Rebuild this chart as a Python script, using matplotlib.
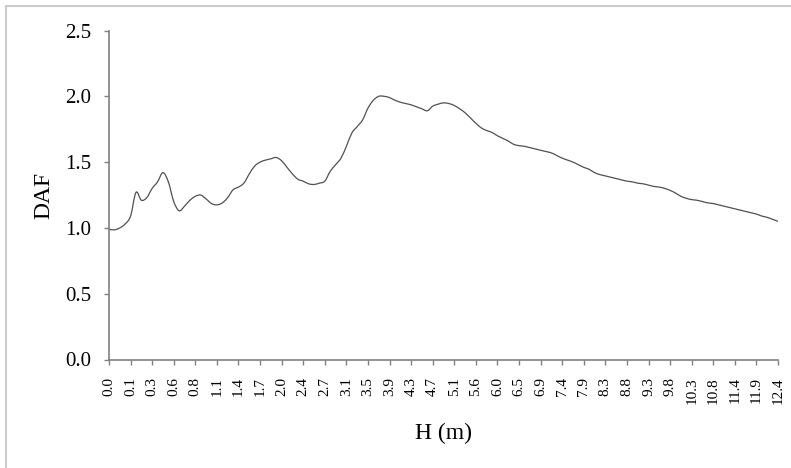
import matplotlib
matplotlib.use("Agg")
import matplotlib.pyplot as plt
import numpy as np
from matplotlib.patches import Rectangle, PathPatch
from matplotlib.path import Path

# tick labels along the category axis, H (m)
h_labels = ["0.0", "0.1", "0.3", "0.6", "0.8", "1.1", "1.4", "1.7", "2.0", "2.4",
            "2.7", "3.1", "3.5", "3.9", "4.3", "4.7", "5.1", "5.6", "6.0", "6.5",
            "6.9", "7.4", "7.9", "8.3", "8.8", "9.3", "9.8", "10.3", "10.8", "11.4",
            "11.9", "12.4"]

# DAF sampled 4 points per labelled interval
daf = [0.99, 0.985, 1.00, 1.03, 1.09, 1.27, 1.21, 1.23, 1.30, 1.35,
       1.42, 1.35, 1.20, 1.13, 1.165, 1.21, 1.24, 1.25, 1.22, 1.185,
       1.175, 1.19, 1.23, 1.29, 1.31, 1.34, 1.41, 1.47, 1.50, 1.515,
       1.525, 1.535, 1.51, 1.46, 1.41, 1.37, 1.355, 1.335, 1.33, 1.34,
       1.355, 1.43, 1.48, 1.53, 1.62, 1.72, 1.77, 1.82, 1.91, 1.97,
       2.00, 2.00, 1.99, 1.97, 1.955, 1.945, 1.935, 1.92, 1.905, 1.89,
       1.925, 1.94, 1.95, 1.945, 1.93, 1.905, 1.875, 1.835, 1.795, 1.76,
       1.74, 1.725, 1.70, 1.68, 1.66, 1.635, 1.625, 1.62, 1.61, 1.60,
       1.59, 1.58, 1.57, 1.55, 1.53, 1.515, 1.50, 1.48, 1.46, 1.445,
       1.42, 1.405, 1.395, 1.385, 1.375, 1.365, 1.355, 1.35, 1.34, 1.335,
       1.325, 1.315, 1.31, 1.30, 1.285, 1.265, 1.24, 1.225, 1.215, 1.21,
       1.20, 1.19, 1.185, 1.175, 1.165, 1.155, 1.145, 1.135, 1.125, 1.115,
       1.105, 1.09, 1.08, 1.065, 1.05]
per_label = 4

x = np.arange(len(daf)) / per_label
y = np.array(daf)


def smooth_path(xs, ys, k=1 / 6):
    # Excel-style smoothed line: cubic bezier through every point
    verts = [(xs[0], ys[0])]
    codes = [Path.MOVETO]
    n = len(xs)
    for i in range(n - 1):
        x0, y0 = xs[max(i - 1, 0)], ys[max(i - 1, 0)]
        x1, y1 = xs[i], ys[i]
        x2, y2 = xs[i + 1], ys[i + 1]
        x3, y3 = xs[min(i + 2, n - 1)], ys[min(i + 2, n - 1)]
        verts += [(x1 + (x2 - x0) * k, y1 + (y2 - y0) * k),
                  (x2 - (x3 - x1) * k, y2 - (y3 - y1) * k),
                  (x2, y2)]
        codes += [Path.CURVE4] * 3
    return Path(verts, codes)


plt.rcParams['font.family'] = ['Liberation Serif', 'DejaVu Serif']

fig = plt.figure(figsize=(7.91, 4.68), dpi=100)
fig.patches.append(Rectangle((6 / 791, -0.1), 1.2, 1.1 - 6 / 468,
                             transform=fig.transFigure, fill=False,
                             edgecolor='#cccccc', linewidth=1.5))
ax = fig.add_axes([109 / 791, 1 - 359.5 / 468, (778 - 109) / 791, (359.5 - 30.5) / 468])

ax.add_patch(PathPatch(smooth_path(x, y), fill=False, edgecolor='#505050', linewidth=0.9))

ax.set_xlim(0, len(h_labels) - 1)
ax.set_ylim(0, 2.5)
ax.set_xticks(np.arange(len(h_labels)))
ax.set_xticklabels(h_labels, rotation=90, fontsize=11)
ax.set_yticks(np.arange(0, 2.51, 0.5))
ax.set_yticklabels([f"{v:.1f}" for v in np.arange(0, 2.51, 0.5)], fontsize=15)

for s in ['top', 'right']:
    ax.spines[s].set_visible(False)
for s in ['left', 'bottom']:
    ax.spines[s].set_color('#808080')
    ax.spines[s].set_linewidth(1.2)
ax.tick_params(axis='both', colors='#808080', length=3.6, width=1, labelcolor='black')
ax.tick_params(axis='y', pad=9)
ax.tick_params(axis='x', pad=9)

ax.set_ylabel('DAF', fontsize=17, labelpad=8)
ax.set_xlabel('H (m)', fontsize=17, labelpad=14)

fig.savefig('out.png', dpi=100)
